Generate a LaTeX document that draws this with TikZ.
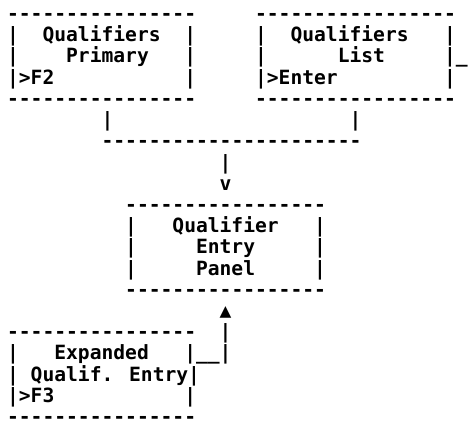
\documentclass[tikz,border=0pt]{standalone}
\usepackage{fontspec}
\newfontfamily\asciifont{DejaVu Sans Mono}[Ligatures=TeXOff]
\tikzset{
  txt/.style={anchor=base west, inner sep=0pt, outer sep=0pt, text depth=0pt,
    font=\asciifont\bfseries\fontsize{19.62}{21.2}\selectfont, text=black}
}
\newcommand\asciiseg[4]{\node[txt] (#1) at ({7.1pt+#2*11.81pt},{-20.6pt-#3*21.2pt}) {#4};}
\begin{document}
\begin{tikzpicture}[x=1pt,y=1pt]
\fill[white] (0,0) rectangle (472,-423);
\useasboundingbox (0,0) rectangle (472,-423);
% top-left box: Qualifiers Primary
\asciiseg{pTop}{0}{0}{----------------}
\asciiseg{pL1}{0}{1}{|}\asciiseg{pT1}{3}{1}{Qualifiers}\asciiseg{pR1}{15}{1}{|}
\asciiseg{pL2}{0}{2}{|}\asciiseg{pT2}{5}{2}{Primary}\asciiseg{pR2}{15}{2}{|}
\asciiseg{pL3}{0}{3}{|>F2}\asciiseg{pR3}{15}{3}{|}
\asciiseg{pBot}{0}{4}{----------------}
% top-right box: Qualifiers List
\asciiseg{lTop}{21}{0}{-----------------}
\asciiseg{lL1}{21}{1}{|}\asciiseg{lT1}{24}{1}{Qualifiers}\asciiseg{lR1}{37}{1}{|}
\asciiseg{lL2}{21}{2}{|}\asciiseg{lT2}{28}{2}{List}\asciiseg{lR2}{37}{2}{|\_}
\asciiseg{lL3}{21}{3}{|>Enter}\asciiseg{lR3}{37}{3}{|}
\asciiseg{lBot}{21}{4}{-----------------}
% joining lines
\asciiseg{jL}{8}{5}{|}\asciiseg{jR}{29}{5}{|}
\asciiseg{jBar}{8}{6}{----------------------}
\asciiseg{jDown}{18}{7}{|}
\asciiseg{jArrow}{18}{8}{v}
% middle box: Qualifier Entry Panel
\asciiseg{qTop}{10}{9}{-----------------}
\asciiseg{qL1}{10}{10}{|}\asciiseg{qT1}{14}{10}{Qualifier}\asciiseg{qR1}{26}{10}{|}
\asciiseg{qL2}{10}{11}{|}\asciiseg{qT2}{16}{11}{Entry}\asciiseg{qR2}{26}{11}{|}
\asciiseg{qL3}{10}{12}{|}\asciiseg{qT3}{16}{12}{Panel}\asciiseg{qR3}{26}{12}{|}
\asciiseg{qBot}{10}{13}{-----------------}
% up arrow
\asciiseg{uArrow}{18}{14}{▲}
% bottom box: Expanded Qualif. Entry
\asciiseg{eTop}{0}{15}{----------------}\asciiseg{uBar}{18}{15}{|}
\asciiseg{eL1}{0}{16}{|}\asciiseg{eT1}{4}{16}{Expanded}\asciiseg{eR1}{15}{16}{|\_\_|}
\asciiseg{eL2}{0}{17}{| Qualif. Entry|}
\asciiseg{eL3}{0}{18}{|>F3}\asciiseg{eR3}{15}{18}{|}
\asciiseg{eBot}{0}{19}{----------------}
\end{tikzpicture}
\end{document}
